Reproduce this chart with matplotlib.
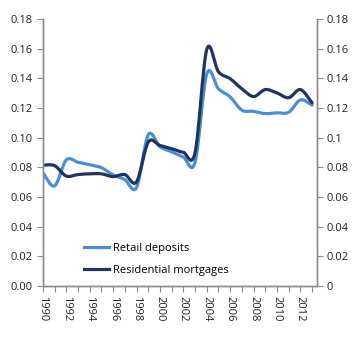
import numpy as np
import matplotlib.pyplot as plt
from matplotlib.path import Path
from matplotlib.patches import PathPatch
from matplotlib.lines import Line2D

plt.rcParams['font.family'] = ['Open Sans', 'DejaVu Sans']

years = list(range(1990, 2014))
retail_deposits = [0.0765, 0.0675, 0.0850, 0.0835, 0.0818, 0.0798, 0.0750, 0.0718,
                   0.0665, 0.1020, 0.0940, 0.0905, 0.0870, 0.0835, 0.1430, 0.1330,
                   0.1275, 0.1186, 0.1178, 0.1163, 0.1168, 0.1172, 0.1255, 0.1220]
residential_mortgages = [0.0815, 0.0812, 0.0742, 0.0752, 0.0757, 0.0757, 0.0738, 0.0752,
                         0.0702, 0.0970, 0.0948, 0.0926, 0.0902, 0.0900, 0.1595, 0.1445,
                         0.1398, 0.1330, 0.1278, 0.1325, 0.1302, 0.1270, 0.1325, 0.1235]
series_names = ["Retail deposits", "Residential mortgages"]
series_colors = ["#4a8fd6", "#1f3560"]
left_labels = ["0.00", "0.02", "0.04", "0.06", "0.08", "0.10", "0.12", "0.14", "0.16", "0.18"]
right_labels = ["0", "0.02", "0.04", "0.06", "0.08", "0.1", "0.12", "0.14", "0.16", "0.18"]


def smooth_path(x, y):
    """Excel-style smoothed line: cubic Bezier through every data point."""
    pts = np.column_stack([x, y]).astype(float)
    n = len(pts)
    verts = [pts[0]]
    codes = [Path.MOVETO]
    for i in range(n - 1):
        p0 = pts[i - 1] if i > 0 else pts[i]
        p1, p2 = pts[i], pts[i + 1]
        p3 = pts[i + 2] if i + 2 < n else pts[i + 1]
        c1 = p1 + (p2 - p0) / 6
        c2 = p2 - (p3 - p1) / 6
        verts += [c1, c2, p2]
        codes += [Path.CURVE4] * 3
    return Path(verts, codes)


fig = plt.figure(figsize=(3.6, 3.41), dpi=100)
ax = fig.add_axes([0.119, 0.161, 0.762, 0.783])

handles = []
for vals, name, col in zip([retail_deposits, residential_mortgages], series_names, series_colors):
    patch = PathPatch(smooth_path(years, vals), facecolor='none', edgecolor=col,
                      lw=2.3, capstyle='round', joinstyle='round')
    ax.add_patch(patch)
    handles.append(Line2D([], [], color=col, lw=2.3, label=name))

ax.set_xlim(1990, 2013.43)
ax.set_ylim(0, 0.18)
yt = np.arange(0, 0.181, 0.02)
ax.set_yticks(yt)
ax.set_yticklabels(left_labels)
ax.set_xticks(years, minor=True)
ax.set_xticks(range(1990, 2013, 2))
ax.set_xticklabels([str(y) for y in range(1990, 2013, 2)], rotation=-90)

ax2 = ax.twinx()
ax2.set_ylim(0, 0.18)
ax2.set_yticks(yt)
ax2.set_yticklabels(right_labels)

spine_col = "#8c8c8c"
for a in (ax, ax2):
    a.spines['top'].set_visible(False)
    for s in ('left', 'right', 'bottom'):
        a.spines[s].set_color(spine_col)
        a.spines[s].set_linewidth(1.0)
    a.tick_params(axis='both', which='both', direction='out', color=spine_col,
                  length=4, width=0.8, labelsize=8, labelcolor="#222222", pad=3)
ax.tick_params(axis='x', which='minor', length=4)

ax.legend(handles=handles, loc='lower left', bbox_to_anchor=(0.115, 0.0), frameon=False,
          fontsize=8, handlelength=2.2, handletextpad=0.4, labelspacing=1.0)

fig.savefig("out.png", dpi=100)
